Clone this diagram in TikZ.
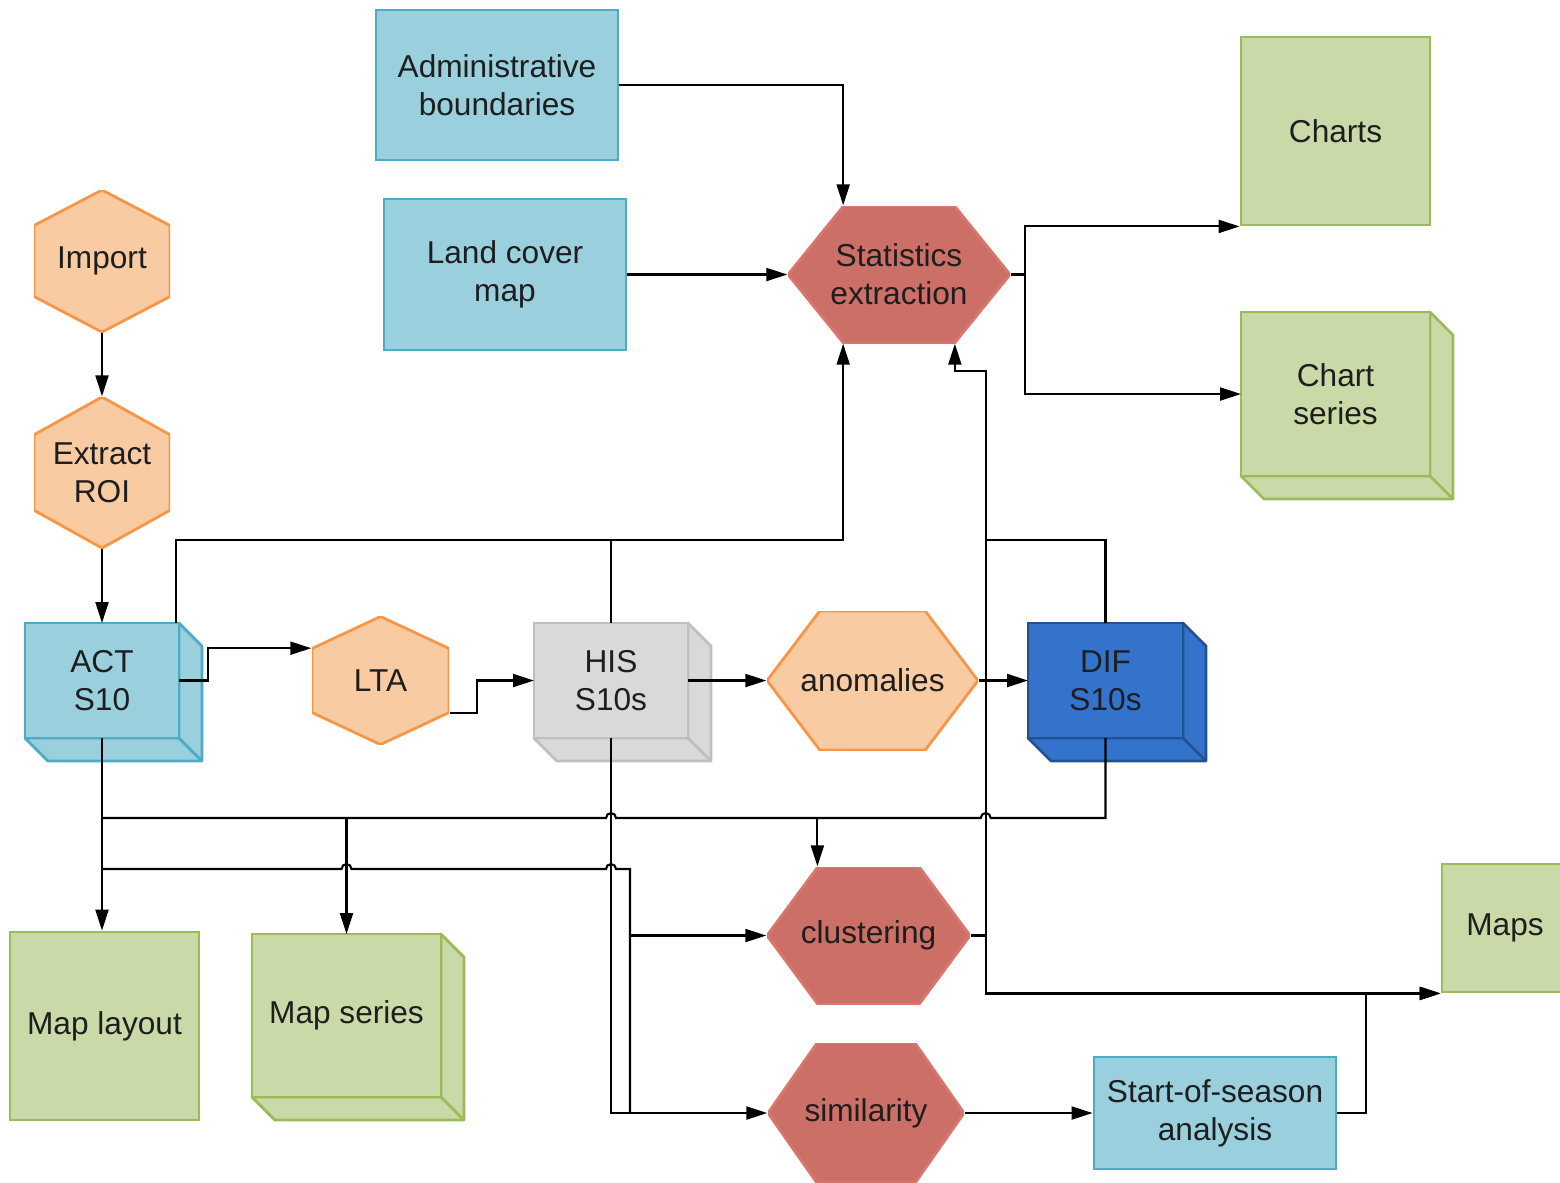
\documentclass[tikz,border=0pt]{standalone}
\usepackage{fontspec}
\setmainfont{Liberation Sans}
\usetikzlibrary{calc}
\usetikzlibrary{positioning}
\usetikzlibrary{arrows.meta}
\definecolor{blueFill}{HTML}{9ACFDD}
\definecolor{blueLine}{HTML}{4BACC6}
\definecolor{orangeFill}{HTML}{F9CBA3}
\definecolor{orangeLine}{HTML}{F79646}
\definecolor{redFill}{HTML}{CC6F67}
\definecolor{redLine}{HTML}{D9776E}
\definecolor{greenFill}{HTML}{C9DAA8}
\definecolor{greenLine}{HTML}{9BBB59}
\definecolor{grayFill}{HTML}{D9D9D9}
\definecolor{grayLine}{HTML}{BFBFBF}
\definecolor{difFill}{HTML}{3373CC}
\definecolor{difLine}{HTML}{24508F}
\definecolor{textDark}{HTML}{1E1E1E}
\tikzstyle{txt} = [font=\fontsize{9}{10.8}\selectfont, text=textDark, align=center, inner sep=0pt]
\tikzstyle{datanode} = [txt, draw, rectangle, line width=0.8pt]
\tikzstyle{colorBlue} = [fill=blueFill, draw=blueLine]
\tikzstyle{colorGreen} = [fill=greenFill, draw=greenLine]
\tikzstyle{link} = [line width=0.6pt]
\tikzstyle{arr} = [link, -{Triangle[length=2.1mm, width=1.3mm]}]
\tikzset{
  hexH/.style 2 args={txt, rectangle, draw=none, fill=none, path picture={
    \filldraw[fill=#1, draw=#2, line width=0.8pt]
      (path picture bounding box.west)
      -- ($(path picture bounding box.north west)!0.25!(path picture bounding box.north east)$)
      -- ($(path picture bounding box.north west)!0.75!(path picture bounding box.north east)$)
      -- (path picture bounding box.east)
      -- ($(path picture bounding box.south west)!0.75!(path picture bounding box.south east)$)
      -- ($(path picture bounding box.south west)!0.25!(path picture bounding box.south east)$)
      -- cycle;}},
  hexV/.style 2 args={txt, rectangle, draw=none, fill=none, path picture={
    \filldraw[fill=#1, draw=#2, line width=0.8pt]
      (path picture bounding box.north)
      -- ($(path picture bounding box.north east)!0.25!(path picture bounding box.south east)$)
      -- ($(path picture bounding box.north east)!0.75!(path picture bounding box.south east)$)
      -- (path picture bounding box.south)
      -- ($(path picture bounding box.north west)!0.75!(path picture bounding box.south west)$)
      -- ($(path picture bounding box.north west)!0.25!(path picture bounding box.south west)$)
      -- cycle;}},
  boxnode/.style 2 args={txt, rectangle, fill=#1, draw=#2, line width=0.8pt, outer sep=0pt,
    append after command={\pgfextra{\let\bxn\tikzlastnode
      \filldraw[fill=#1, draw=#2, line width=0.8pt, line join=round] (\bxn.north east)
        -- ($(\bxn.north east)+(0.23,-0.23)$) -- ($(\bxn.south east)+(0.23,-0.23)$)
        -- ($(\bxn.south west)+(0.23,-0.23)$) -- (\bxn.south west) -- (\bxn.south east) -- cycle;
      \draw[draw=#2, line width=0.8pt] (\bxn.south east) -- ($(\bxn.south east)+(0.23,-0.23)$);}}}
}

\begin{document}
\begin{tikzpicture}
    \useasboundingbox (0,0) rectangle (15.60,-11.82);

    % import chain and time series
    \node[hexV={orangeFill}{orangeLine}, minimum width=1.36cm, minimum height=1.42cm] (proc_import) at (1.02,-2.61) {Import};
    \node[hexV={orangeFill}{orangeLine}, minimum width=1.36cm, minimum height=1.51cm] (proc_extract) at ($(proc_import)+(0,-2.115)$) {Extract\\ROI};
    \node[boxnode={blueFill}{blueLine}, minimum width=1.54cm, minimum height=1.15cm] (data_act) at ($(proc_extract)+(0,-2.08)$) {ACT\\S10};
    \node[hexV={orangeFill}{orangeLine}, minimum width=1.37cm, minimum height=1.28cm] (proc_lta) at ($(data_act)+(2.785,0)$) {LTA};
    \node[boxnode={grayFill}{grayLine}, minimum width=1.54cm, minimum height=1.15cm] (data_his) at ($(proc_lta)+(2.305,0)$) {HIS\\S10s};
    \node[hexH={orangeFill}{orangeLine}, minimum width=2.11cm, minimum height=1.39cm] (proc_anom) at ($(data_his)+(2.615,0)$) {anomalies};
    \node[boxnode={difFill}{difLine}, minimum width=1.55cm, minimum height=1.15cm] (data_dif) at ($(proc_anom)+(2.33,0)$) {DIF\\S10s};

    % statistics part
    \node[datanode, colorBlue, minimum width=2.42cm, minimum height=1.50cm] (in_admin) at ($(data_his)+(-1.14,5.955)$) {Administrative\\boundaries};
    \node[datanode, colorBlue, minimum width=2.42cm, minimum height=1.51cm] (in_land) at ($(in_admin)+(0.08,-1.895)$) {Land cover\\map};
    \node[hexH={redFill}{redLine}, minimum width=2.22cm, minimum height=1.37cm] (proc_stats) at ($(in_land)+(3.94,0)$) {Statistics\\extraction};
    \node[datanode, colorGreen, minimum width=1.89cm, minimum height=1.88cm] (out_charts) at ($(proc_stats)+(4.365,1.435)$) {Charts};
    \node[boxnode={greenFill}{greenLine}, minimum width=1.89cm, minimum height=1.64cm] (out_chartser) at ($(out_charts)+(0,-2.63)$) {Chart\\series};

    % maps and analyses
    \node[datanode, colorGreen, minimum width=1.89cm, minimum height=1.88cm] (out_maplayout) at ($(data_act)+(0.025,-3.455)$) {Map layout};
    \node[boxnode={greenFill}{greenLine}, minimum width=1.89cm, minimum height=1.63cm] (out_mapser) at ($(out_maplayout)+(2.42,0.105)$) {Map series};
    \node[hexH={redFill}{redLine}, minimum width=2.03cm, minimum height=1.37cm] (proc_clust) at ($(proc_anom)+(-0.04,-2.55)$) {clustering};
    \node[hexH={redFill}{redLine}, minimum width=1.96cm, minimum height=1.40cm] (proc_simil) at ($(proc_clust)+(-0.025,-1.775)$) {similarity};
    \node[datanode, colorBlue, minimum width=2.42cm, minimum height=1.12cm] (proc_sos) at ($(proc_simil)+(3.49,0)$) {Start-of-season\\analysis};
    \node[datanode, colorGreen, minimum width=1.26cm, minimum height=1.28cm] (out_maps) at ($(proc_sos)+(2.9,1.85)$) {Maps};

    \coordinate (stats_in_l) at ($(proc_stats.south west)!0.25!(proc_stats.south east)$);
    \coordinate (stats_in_r) at ($(proc_stats.south west)!0.75!(proc_stats.south east)$);
    \coordinate (clust_in) at ($(proc_clust.north west)!0.25!(proc_clust.north east)$);
    \coordinate (bus_top) at ($(data_act.north east)+(-0.03,0.83)$);
    \coordinate (bus_right) at ($(proc_clust.east)+(0.15,0)$);
    \coordinate (bus_a) at ($(data_act.south)+(0,-0.80)$);
    \coordinate (bus_b) at ($(data_act.south)+(0,-1.31)$);
    \coordinate (bus_c) at ($(data_his.south)+(0.19,0)$);

    \draw[arr] (proc_import) -- (proc_extract);
    \draw[arr] (proc_extract) -- (data_act);
    \draw[arr] (data_act.east) -- ++(0.29,0) |- ($(proc_lta.north west)!0.25!(proc_lta.south west)$);
    \draw[arr] ($(proc_lta.north east)!0.75!(proc_lta.south east)$) -- ++(0.27,0) |- (data_his.west);
    \draw[arr] (data_his) -- (proc_anom);
    \draw[arr] (proc_anom) -- (data_dif);

    \draw[arr] (in_admin.east) -| ($(proc_stats.north west)!0.25!(proc_stats.north east)$);
    \draw[arr] (in_land) -- (proc_stats);
    \draw[arr] (proc_stats.east) -- ++(0.14,0) |- (out_charts.south west);
    \draw[arr] (proc_stats.east) -- ++(0.14,0) |- (out_chartser.west);

    \draw[arr] ($(data_act.north east)+(-0.03,0)$) -- (bus_top) -| (stats_in_l);
    \draw[link] (data_his.north) -- (data_his.north |- bus_top);
    \draw[arr] (data_dif.north) |- (bus_right |- bus_top) |- ($(stats_in_r)+(0,-0.27)$) -- (stats_in_r);
    \draw[link] (proc_clust.east) -- (bus_right) -- (bus_right |- bus_top);
    \draw[arr] (bus_right) |- (out_maps.south west);
    \draw[arr] (proc_sos.east) -- ++(0.29,0) |- (out_maps.south west);

    \draw[arr] (data_act.south) -- (data_act.south |- out_maplayout.north);
    \draw[link] (bus_a) -- ($(bus_a -| data_his)+(-0.05,0)$) arc (180:0:0.05) -- ($(bus_a -| bus_right)+(-0.05,0)$) arc (180:0:0.05) -| (data_dif.south);
    \draw[arr] (bus_a -| out_mapser.north) -- (out_mapser.north);
    \draw[arr] (bus_a -| clust_in) -- (clust_in);
    \draw[link] (bus_b) -- ($(bus_b -| out_mapser.north)+(-0.05,0)$) arc (180:0:0.05) -- ($(bus_b -| data_his)+(-0.05,0)$) arc (180:0:0.05) -- (bus_b -| bus_c) -- (bus_c |- proc_simil.west);
    \draw[arr] (bus_c |- proc_clust.west) -- (proc_clust.west);
    \draw[arr] (data_his.south) |- (proc_simil.west);
    \draw[arr] (proc_simil) -- (proc_sos);
\end{tikzpicture}
\end{document}
